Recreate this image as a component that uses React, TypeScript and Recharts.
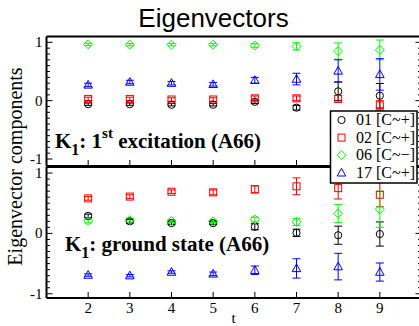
import React from "react";
import { ScatterChart, Scatter, XAxis, YAxis, ErrorBar } from "recharts";

// time slices
const steps = [2, 3, 4, 5, 6, 7, 8, 9];
const xTicks = [2, 3, 4, 5, 6, 7, 8, 9];
const yTicks = [-1, -0.9, -0.8, -0.7, -0.6, -0.5, -0.4, -0.3, -0.2, -0.1, 0, 0.1, 0.2, 0.3, 0.4, 0.5, 0.6, 0.7, 0.8, 0.9, 1];

const seriesNames = ["01 [C~+]", "02 [C~+]", "06 [C~\u2212]", "17 [C~+]"];
const seriesColors = ["#000000", "#ff0000", "#00ff00", "#0000ff"];
const seriesShapes = ["circle", "square", "diamond", "triangle"];

// K1: 1st excitation
const exc01 = [-0.06, -0.06, -0.07, -0.07, -0.02, -0.12, 0.16, 0.085];
const exc01Err = [0.02, 0.02, 0.02, 0.02, 0.03, 0.04, 0.16, 0.21];
const exc02 = [0.03, 0.03, 0.02, 0.02, 0.04, 0.04, 0.03, -0.08];
const exc02Err = [0.03, 0.03, 0.03, 0.03, 0.04, 0.04, 0.06, 0.08];
const exc06 = [0.965, 0.96, 0.96, 0.96, 0.945, 0.93, 0.85, 0.87];
const exc06Err = [0.02, 0.02, 0.02, 0.02, 0.03, 0.06, 0.14, 0.17];
const exc17 = [0.27, 0.32, 0.3, 0.28, 0.35, 0.37, 0.51, 0.45];
const exc17Err = [0.03, 0.03, 0.03, 0.03, 0.05, 0.1, 0.19, 0.27];

// K1: ground state
const gnd01 = [0.29, 0.2, 0.17, 0.17, 0.11, 0.01, -0.03, -0.01];
const gnd01Err = [0.03, 0.03, 0.02, 0.02, 0.05, 0.06, 0.15, 0.2];
const gnd02 = [0.58, 0.61, 0.69, 0.68, 0.73, 0.78, 0.75, 0.64];
const gnd02Err = [0.03, 0.03, 0.03, 0.04, 0.06, 0.14, 0.18, 0.2];
const gnd06 = [0.205, 0.22, 0.205, 0.2, 0.23, 0.19, 0.33, 0.4];
const gnd06Err = [0.03, 0.03, 0.02, 0.02, 0.04, 0.06, 0.15, 0.3];
const gnd17 = [-0.69, -0.7, -0.64, -0.67, -0.61, -0.58, -0.55, -0.64];
const gnd17Err = [0.02, 0.02, 0.02, 0.03, 0.07, 0.16, 0.22, 0.15];

const serif = "'Liberation Serif', 'DejaVu Serif', serif";

const toRows = (vals: number[], errs: number[]) =>
  steps.map((t, i) => ({ t, v: vals[i], e: errs[i] }));

const excRows = [toRows(exc01, exc01Err), toRows(exc02, exc02Err), toRows(exc06, exc06Err), toRows(exc17, exc17Err)];
const gndRows = [toRows(gnd01, gnd01Err), toRows(gnd02, gnd02Err), toRows(gnd06, gnd06Err), toRows(gnd17, gnd17Err)];

function Marker({ kind, color, cx, cy }: any) {
  if (cx == null || cy == null) return null;
  const p = { fill: "none", stroke: color, strokeWidth: 1 };
  if (kind === "circle") return <circle cx={cx} cy={cy} r={3.6} {...p} />;
  if (kind === "square") return <rect x={cx - 3.5} y={cy - 3.5} width={7} height={7} {...p} />;
  if (kind === "diamond")
    return <polygon points={`${cx},${cy - 4.5} ${cx + 4.5},${cy} ${cx},${cy + 4.5} ${cx - 4.5},${cy}`} {...p} />;
  return <polygon points={`${cx},${cy - 4.5} ${cx + 4.3},${cy + 3.2} ${cx - 4.3},${cy + 3.2}`} {...p} />;
}

function YTick({ x, y, payload, side }: any) {
  const v = payload.value;
  const major = Math.abs(v - Math.round(v)) < 1e-6;
  const len = major ? 6 : 3.5;
  const dir = side === "left" ? 1 : -1;
  return (
    <g>
      <line x1={x} y1={y} x2={x + dir * len} y2={y} stroke="#000" strokeWidth={1} />
      {major && side === "left" && (
        <text x={x - 4} y={y} dy={5} textAnchor="end" fontFamily={serif} fontSize={15} fill="#000">
          {String(Math.round(v))}
        </text>
      )}
    </g>
  );
}

function XTick({ x, y, payload, side, labels }: any) {
  const dir = side === "top" ? 1 : -1;
  return (
    <g>
      <line x1={x} y1={y} x2={x} y2={y + dir * 6} stroke="#000" strokeWidth={1} />
      {labels && (
        <text x={x} y={y + 15} textAnchor="middle" fontFamily={serif} fontSize={15} fill="#000">
          {payload.value}
        </text>
      )}
    </g>
  );
}

function Panel({ rows, domain, top, height, margin, bottomH, labels }: any) {
  const frame = { stroke: "#000", strokeWidth: 2 };
  return (
    <div style={{ position: "absolute", left: 0, top }}>
      <ScatterChart width={430} height={height} margin={margin}>
        <XAxis xAxisId="b" type="number" dataKey="t" domain={[1, 10]} ticks={xTicks} interval={0}
          orientation="bottom" height={bottomH} tickSize={0} tickMargin={0} axisLine={frame}
          tick={(p: any) => <XTick {...p} side="bottom" labels={labels} />} />
        <XAxis xAxisId="t" type="number" domain={[1, 10]} ticks={xTicks} interval={0}
          orientation="top" height={1} tickSize={0} tickMargin={0} axisLine={frame}
          tick={(p: any) => <XTick {...p} side="top" labels={false} />} />
        <YAxis yAxisId="l" type="number" dataKey="v" domain={domain} ticks={yTicks} interval={0}
          width={40} tickSize={0} tickMargin={0} axisLine={frame} allowDataOverflow
          tick={(p: any) => <YTick {...p} side="left" />} />
        <YAxis yAxisId="r" type="number" orientation="right" domain={domain} ticks={yTicks} interval={0}
          width={1} tickSize={0} tickMargin={0} axisLine={frame} allowDataOverflow
          tick={(p: any) => <YTick {...p} side="right" />} />
        {rows.map((data: any[], i: number) => (
          <Scatter key={i} xAxisId="b" yAxisId="l" data={data} isAnimationActive={false}
            shape={(p: any) => <Marker {...p} kind={seriesShapes[i]} color={seriesColors[i]} />}>
            <ErrorBar dataKey="e" direction="y" width={4} stroke={seriesColors[i]} strokeWidth={1} />
          </Scatter>
        ))}
      </ScatterChart>
    </div>
  );
}

export default function App() {
  return (
    <div style={{ position: "absolute", left: 0, top: 0, width: 419, height: 326, overflow: "hidden", background: "#fff" }}>
      <Panel rows={excRows} domain={[-1.12, 1.1]} top={0} height={170}
        margin={{ top: 35.5, right: 7.5, bottom: 3, left: 6.5 }} bottomH={1} labels={false} />
      <Panel rows={gndRows} domain={[-1.07, 1.1]} top={160} height={166}
        margin={{ top: 6, right: 7.5, bottom: 0, left: 6.5 }} bottomH={28} labels={true} />
      <svg width={419} height={326} style={{ position: "absolute", left: 0, top: 0, pointerEvents: "none" }}>
        <text x={213.5} y={26.5} textAnchor="middle" fontFamily="'Liberation Sans', Arial, sans-serif" fontSize={26} fill="#000">
          Eigenvectors
        </text>
        <text transform="translate(21.5,166.5) rotate(-90)" textAnchor="middle" fontFamily={serif} fontSize={20} fill="#000">
          Eigenvector components
        </text>
        <text x={233.5} y={323} textAnchor="middle" fontFamily={serif} fontSize={15} fill="#000">t</text>
        <text x={55} y={148} fontFamily={serif} fontWeight="bold" fontSize={21} fill="#000">
          K<tspan dy={7} fontSize={16}>1</tspan>
          <tspan dy={-7}>: 1</tspan>
          <tspan dy={-10} fontSize={15}>st</tspan>
          <tspan dy={10}> excitation (A66)</tspan>
        </text>
        <text x={65} y={250.5} fontFamily={serif} fontWeight="bold" fontSize={21} fill="#000">
          K<tspan dy={7} fontSize={16}>1</tspan>
          <tspan dy={-7}>: ground state (A66)</tspan>
        </text>
        <rect x={330.5} y={111} width={86.5} height={72} fill="#fff" stroke="#000" strokeWidth={1.5} />
        {seriesNames.map((name, i) => (
          <g key={name}>
            <Marker kind={seriesShapes[i]} color={seriesColors[i]} cx={341.5} cy={120 + i * 17.6} />
            <text x={356} y={125 + i * 17.6} fontFamily={serif} fontSize={16} fill="#000">{name}</text>
          </g>
        ))}
      </svg>
    </div>
  );
}
